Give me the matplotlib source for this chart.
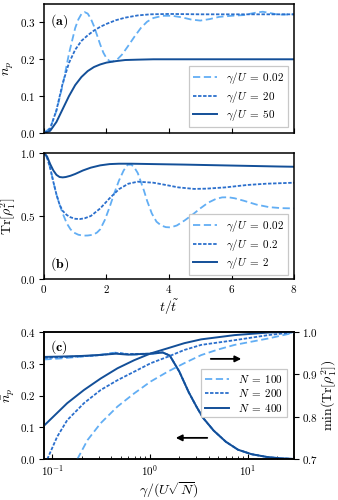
import matplotlib
matplotlib.use("Agg")
import matplotlib.pyplot as plt

plt.rcParams.update({
    "font.family": "serif",
    "font.serif": ["cmr10"],
    "mathtext.fontset": "cm",
    "axes.formatter.use_mathtext": True,
    "axes.unicode_minus": False,
    "font.size": 8,
    "xtick.direction": "in",
    "ytick.direction": "out",
    "axes.linewidth": 1.1,
})

C_LIGHT = "#62aef4"
C_MED = "#2b6fcc"
C_DARK = "#134f98"

# ---------------- panel (a) data ----------------
t_a_light = [0, 0.2, 0.4, 0.6, 0.8, 1.0, 1.1, 1.2, 1.3, 1.4, 1.5, 1.6, 1.7, 1.8, 1.9, 2.0, 2.1,
             2.2, 2.35, 2.5, 2.7, 2.9, 3.1, 3.3, 3.5, 3.8, 4.1, 4.4, 4.7, 5.0, 5.3, 5.6, 6.0,
             6.4, 6.8, 7.0, 7.2, 7.5, 8.0]
np_light = [0, 0.014, 0.06, 0.13, 0.215, 0.285, 0.308, 0.323, 0.328, 0.324, 0.31, 0.29, 0.265,
            0.24, 0.218, 0.203, 0.195, 0.194, 0.2, 0.213, 0.237, 0.262, 0.285, 0.302, 0.312,
            0.318, 0.318, 0.314, 0.308, 0.305, 0.309, 0.315, 0.318, 0.32, 0.327, 0.329, 0.326,
            0.321, 0.322]
t_a_med = [0, 0.2, 0.4, 0.6, 0.8, 1.0, 1.2, 1.4, 1.6, 1.8, 2.0, 2.3, 2.6, 3.0, 3.4, 4, 5, 6, 7, 8]
np_med = [0, 0.012, 0.062, 0.135, 0.19, 0.226, 0.25, 0.265, 0.278, 0.288, 0.296, 0.306, 0.313,
          0.319, 0.322, 0.323, 0.322, 0.322, 0.322, 0.322]
t_a_dark = [0, 0.2, 0.4, 0.6, 0.8, 1.0, 1.2, 1.4, 1.6, 1.8, 2.0, 2.3, 2.6, 3.0, 3.5, 4, 5, 6, 7, 8]
np_dark = [0, 0.006, 0.03, 0.065, 0.1, 0.13, 0.152, 0.168, 0.179, 0.186, 0.191, 0.195, 0.198,
           0.199, 0.2, 0.2, 0.2, 0.2, 0.2, 0.2]
labels_a = [r"$\gamma/U\;=\;0.02$", r"$\gamma/U\;=\;20$", r"$\gamma/U\;=\;50$"]

# ---------------- panel (b) data ----------------
t_b_light = [0, 0.1, 0.2, 0.3, 0.4, 0.5, 0.6, 0.73, 0.85, 0.95, 1.1, 1.26, 1.4, 1.58, 1.7, 1.8,
             1.95, 2.1, 2.25, 2.4, 2.55, 2.68, 2.8, 2.9, 3.0, 3.1, 3.2, 3.3, 3.45, 3.6, 3.75,
             3.9, 4.05, 4.25, 4.5, 4.75, 5.0, 5.25, 5.5, 5.7, 5.9, 6.1, 6.4, 6.8, 7.2, 7.6, 8.0]
tr_light = [1.0, 0.96, 0.88, 0.77, 0.67, 0.59, 0.52, 0.442, 0.395, 0.37, 0.352, 0.345, 0.346,
            0.352, 0.37, 0.395, 0.47, 0.57, 0.68, 0.78, 0.86, 0.905, 0.905, 0.88, 0.84, 0.77,
            0.70, 0.62, 0.52, 0.455, 0.425, 0.412, 0.41, 0.425, 0.465, 0.51, 0.56, 0.605,
            0.635, 0.647, 0.648, 0.64, 0.62, 0.59, 0.57, 0.562, 0.56]
t_b_med = [0, 0.1, 0.2, 0.3, 0.4, 0.5, 0.6, 0.73, 0.85, 1.0, 1.15, 1.3, 1.5, 1.8, 2.1, 2.4, 2.7,
           3.0, 3.5, 3.9, 4.3, 4.8, 5.2, 5.8, 6.5, 7.1, 8]
tr_med = [1.0, 0.96, 0.88, 0.77, 0.67, 0.59, 0.54, 0.508, 0.49, 0.478, 0.476, 0.482, 0.5, 0.56,
          0.64, 0.712, 0.755, 0.771, 0.763, 0.745, 0.726, 0.714, 0.716, 0.726, 0.745, 0.755,
          0.763]
t_b_dark = [0, 0.1, 0.2, 0.3, 0.4, 0.5, 0.6, 0.7, 0.85, 1.0, 1.25, 1.5, 1.8, 2.1, 2.4, 2.8, 3.5,
            4.5, 5.5, 6.5, 7.5, 8]
tr_dark = [1.0, 0.97, 0.91, 0.86, 0.825, 0.808, 0.805, 0.808, 0.818, 0.832, 0.86, 0.882, 0.9,
           0.91, 0.913, 0.913, 0.91, 0.906, 0.901, 0.896, 0.891, 0.889]
labels_b = [r"$\gamma/U\;=\;0.02$", r"$\gamma/U\;=\;0.2$", r"$\gamma/U\;=\;2$"]

# ---------------- panel (c) data ----------------
g_np_light = [0.083, 0.12, 0.2, 0.3, 0.4, 0.47, 0.55, 0.7, 1.0, 1.35, 1.6, 2.0, 2.5, 3.0, 3.5,
              4.5, 6, 8, 11, 16, 22, 30]
np_bar_light = [0.313, 0.316, 0.322, 0.327, 0.333, 0.335, 0.33, 0.328, 0.33, 0.335, 0.325,
                0.275, 0.21, 0.165, 0.13, 0.09, 0.055, 0.03, 0.016, 0.007, 0.003, 0.001]
g_np_med = [0.083, 0.12, 0.2, 0.3, 0.45, 0.6, 1.0, 1.35, 1.6, 2.0, 2.5, 3.0, 3.5, 4.5, 6, 8,
            11, 16, 22, 30]
np_bar_med = [0.318, 0.32, 0.323, 0.326, 0.333, 0.33, 0.331, 0.335, 0.325, 0.275, 0.21, 0.165,
              0.13, 0.09, 0.055, 0.03, 0.016, 0.007, 0.003, 0.001]
g_np_dark = [0.083, 0.12, 0.2, 0.3, 0.45, 0.6, 0.8, 1.0, 1.2, 1.35, 1.6, 2.0, 2.5, 3.0, 3.5,
             4.5, 6, 8, 11, 16, 22, 30]
np_bar_dark = [0.321, 0.322, 0.324, 0.327, 0.331, 0.328, 0.33, 0.331, 0.333, 0.335, 0.325,
               0.275, 0.21, 0.165, 0.13, 0.09, 0.055, 0.03, 0.016, 0.007, 0.003, 0.001]

g_tr_light = [0.180, 0.229, 0.313, 0.465, 0.69, 1.02, 1.52, 2.25, 3.35, 4.97, 7.38, 16.3, 30.5]
mintr_light = [0.7, 0.745, 0.785, 0.824, 0.855, 0.883, 0.906, 0.926, 0.945, 0.958, 0.969,
               0.984, 0.998]
g_tr_med = [0.0886, 0.112, 0.142, 0.211, 0.313, 0.465, 0.69, 1.02, 1.52, 2.25, 3.35, 7.37,
            16.3, 30.5]
mintr_med = [0.7, 0.753, 0.792, 0.832, 0.863, 0.886, 0.906, 0.926, 0.941, 0.957, 0.969, 0.980,
             0.992, 0.999]
g_tr_dark = [0.0838, 0.142, 0.211, 0.313, 0.465, 0.69, 1.02, 1.52, 2.25, 3.35, 7.38, 16.3, 30.5]
mintr_dark = [0.781, 0.832, 0.863, 0.890, 0.914, 0.933, 0.949, 0.961, 0.973, 0.982, 0.992,
              0.998, 1.0]
labels_c = [r"$N\;=\;100$", r"$N\;=\;200$", r"$N\;=\;400$"]

STY_LIGHT = dict(color=C_LIGHT, lw=1.3, ls=(0, (4.0, 2.0)))
STY_MED = dict(color=C_MED, lw=1.3, ls=(0, (1.9, 0.9)))
STY_DARK = dict(color=C_DARK, lw=1.4, ls="-")

fig = plt.figure(figsize=(3.38, 5.0), dpi=100)
L, W = 0.130, 0.740
ax_a = fig.add_axes([L, 0.734, W, 0.258])
ax_b = fig.add_axes([L, 0.4414, W, 0.2532])
ax_c = fig.add_axes([L, 0.0814, W, 0.2552])

LEG = dict(fontsize=8, fancybox=False, framealpha=1, edgecolor="#c8c8c8",
           borderaxespad=0, handlelength=2.2, borderpad=0.35, labelspacing=0.22,
           handletextpad=0.8)

# (a)
ax_a.plot(t_a_light, np_light, label=labels_a[0], **STY_LIGHT)
ax_a.plot(t_a_med, np_med, label=labels_a[1], **STY_MED)
ax_a.plot(t_a_dark, np_dark, label=labels_a[2], **STY_DARK)
ax_a.set_xlim(0, 8)
ax_a.set_ylim(0, 0.35)
ax_a.set_xticks([0, 2, 4, 6, 8])
ax_a.set_xticklabels([])
ax_a.set_yticks([0, 0.1, 0.2, 0.3])
ax_a.set_ylabel(r"$n_p$", fontsize=10, labelpad=3)
leg = ax_a.legend(loc="lower right", bbox_to_anchor=(0.976, 0.047), **LEG)
leg.get_frame().set_linewidth(0.9)
ax_a.text(0.024, 0.935, r"$\mathbf{(a)}$", transform=ax_a.transAxes, fontsize=10,
          va="top", ha="left")

# (b)
ax_b.plot(t_b_light, tr_light, label=labels_b[0], **STY_LIGHT)
ax_b.plot(t_b_med, tr_med, label=labels_b[1], **STY_MED)
ax_b.plot(t_b_dark, tr_dark, label=labels_b[2], **STY_DARK)
ax_b.set_xlim(0, 8)
ax_b.set_ylim(0, 1.0)
ax_b.set_xticks([0, 2, 4, 6, 8])
ax_b.set_yticks([0, 0.5, 1.0])
ax_b.set_ylabel(r"$\mathrm{Tr}[\rho_1^2]$", fontsize=10, labelpad=1)
ax_b.set_xlabel(r"$t/\tilde{t}$", fontsize=10, labelpad=2)
leg = ax_b.legend(loc="lower right", bbox_to_anchor=(0.976, 0.034), **LEG)
leg.get_frame().set_linewidth(0.9)
ax_b.text(0.024, 0.05, r"$\mathbf{(b)}$", transform=ax_b.transAxes, fontsize=10,
          va="bottom", ha="left")

# (c)
ax_c2 = ax_c.twinx()
ax_c.plot(g_np_light, np_bar_light, **STY_LIGHT)
ax_c.plot(g_np_med, np_bar_med, **STY_MED)
ax_c.plot(g_np_dark, np_bar_dark, **STY_DARK)
h1, = ax_c2.plot(g_tr_light, mintr_light, label=labels_c[0], **STY_LIGHT)
h2, = ax_c2.plot(g_tr_med, mintr_med, label=labels_c[1], **STY_MED)
h3, = ax_c2.plot(g_tr_dark, mintr_dark, label=labels_c[2], **STY_DARK)
ax_c.set_xscale("log")
ax_c.set_xlim(0.082, 30)
ax_c.set_ylim(0, 0.4)
ax_c.set_yticks([0, 0.1, 0.2, 0.3, 0.4])
ax_c2.set_ylim(0.7, 1.0)
ax_c2.set_yticks([0.7, 0.8, 0.9, 1.0])
ax_c2.tick_params(axis="y", direction="out")
ax_c.tick_params(axis="x", which="both", direction="in")
ax_c.set_ylabel(r"$\bar{n}_p$", fontsize=10, labelpad=2)
ax_c2.set_ylabel(r"$\min(\mathrm{Tr}[\rho_1^2])$", fontsize=10, labelpad=1)
ax_c.set_xlabel(r"$\gamma/(U\sqrt{N})$", fontsize=10, labelpad=2)
leg = ax_c2.legend(handles=[h1, h2, h3], loc="upper right", bbox_to_anchor=(0.972, 0.709),
                   **LEG)
leg.get_frame().set_linewidth(0.9)
ax_c.text(0.024, 0.95, r"$\mathbf{(c)}$", transform=ax_c.transAxes, fontsize=10,
          va="top", ha="left")
ax_c.annotate("", xy=(0.80, 0.787), xytext=(0.656, 0.787), xycoords="axes fraction",
              arrowprops=dict(arrowstyle="-|>", color="k", lw=1.3, mutation_scale=9))
ax_c.annotate("", xy=(0.516, 0.168), xytext=(0.664, 0.168), xycoords="axes fraction",
              arrowprops=dict(arrowstyle="-|>", color="k", lw=1.3, mutation_scale=9))

for ax in (ax_a, ax_b, ax_c, ax_c2):
    ax.tick_params(labelsize=8, length=3.5, width=0.8, pad=2.5)
ax_c.tick_params(which="minor", length=2, width=0.6)

fig.savefig("out.png", dpi=100)
